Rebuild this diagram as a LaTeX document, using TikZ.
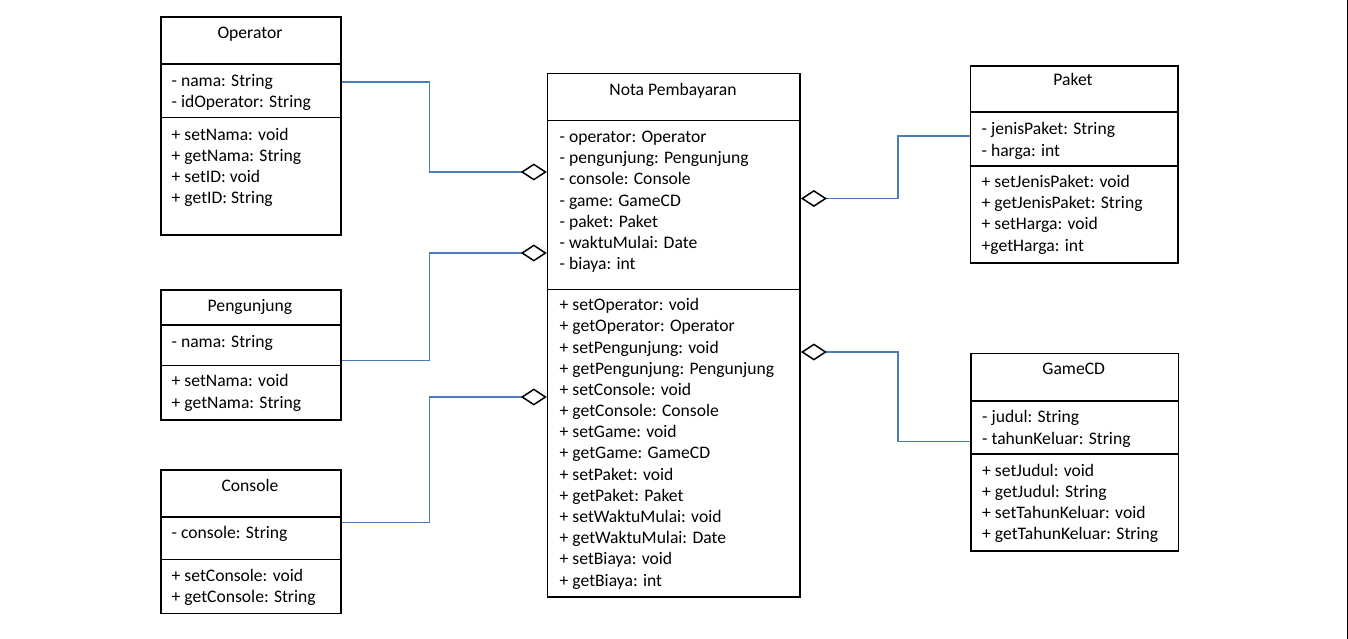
\documentclass[tikz,border=0pt]{standalone}
\usepackage{fontspec}
\setmainfont{Carlito}
\usetikzlibrary{arrows.meta}
\definecolor{conncol}{RGB}{74,126,187}
\tikzset{
  classbox/.style={draw=black, line width=1.6pt, fill=white, minimum width=#1, inner sep=0pt, anchor=north west},
  sepline/.style={draw=black, line width=1.6pt},
  txt/.style={font=\fontsize{17.6}{21.15}\selectfont, inner sep=0pt, anchor=base west},
  ttl/.style={font=\fontsize{17.6}{21.15}\selectfont, inner sep=0pt, anchor=base},
  agg/.style={draw=conncol, line width=1.5pt, {Diamond[open, fill=white, color=black, length=26pt, width=17pt, line width=1.5pt]}-},
}
\begin{document}
\begin{tikzpicture}[x=1pt, y=-1pt]
\useasboundingbox (0,0) rectangle (1348,639);
\fill[white] (0,0) rectangle (1348,639);
\fill[black] (1346.6,0) rectangle (1348,639);

% ---------- Operator ----------
\node[classbox=180pt, minimum height=218pt] (op) at (160,16) {};
\draw[sepline] (op.west |- 0,64) -- (op.east |- 0,64);
\draw[sepline] (op.west |- 0,117.5) -- (op.east |- 0,117.5);
\node[ttl] (opt) at (250,38.5) {Operator};
\foreach [count=\i] \t in {- nama: String, - idOperator: String}
  \node[txt] (opa\i) at (171.5,{86.5+(\i-1)*21.15}) {\t};
\foreach [count=\i] \t in {+ setNama: void, + getNama: String, + setID: void, + getID: String}
  \node[txt] (opm\i) at (171.5,{140.5+(\i-1)*21.15}) {\t};

% ---------- Pengunjung ----------
\node[classbox=180pt, minimum height=130pt] (pg) at (160,289) {};
\draw[sepline] (pg.west |- 0,325) -- (pg.east |- 0,325);
\draw[sepline] (pg.west |- 0,365.5) -- (pg.east |- 0,365.5);
\node[ttl] (pgt) at (250,311.5) {Pengunjung};
\node[txt] (pga1) at (171.5,347.5) {- nama: String};
\foreach [count=\i] \t in {+ setNama: void, + getNama: String}
  \node[txt] (pgm\i) at (171.5,{386.8+(\i-1)*21.6}) {\t};

% ---------- Console ----------
\node[classbox=180pt, minimum height=143.5pt] (cs) at (160,469) {};
\draw[sepline] (cs.west |- 0,516.7) -- (cs.east |- 0,516.7);
\draw[sepline] (cs.west |- 0,559.3) -- (cs.east |- 0,559.3);
\node[ttl] (cst) at (250,491) {Console};
\node[txt] (csa1) at (171.5,538.7) {- console: String};
\foreach [count=\i] \t in {+ setConsole: void, + getConsole: String}
  \node[txt] (csm\i) at (171.5,{581+(\i-1)*21.8}) {\t};

% ---------- Nota Pembayaran ----------
\node[classbox=252.5pt, minimum height=523.3pt] (nota) at (546.8,72.7) {};
\draw[sepline] (nota.west |- 0,120.7) -- (nota.east |- 0,120.7);
\draw[sepline] (nota.west |- 0,289.3) -- (nota.east |- 0,289.3);
\node[ttl] (notat) at (673,95.7) {Nota Pembayaran};
\foreach [count=\i] \t in {- operator: Operator, - pengunjung: Pengunjung, - console: Console, - game: GameCD, - paket: Paket, - waktuMulai: Date, - biaya: int}
  \node[txt] (notaa\i) at (559.5,{142.7+(\i-1)*21.1}) {\t};
\foreach [count=\i] \t in {+ setOperator: void, + getOperator: Operator, + setPengunjung: void, + getPengunjung: Pengunjung, + setConsole: void, + getConsole: Console, + setGame: void, + getGame: GameCD, + setPaket: void, + getPaket: Paket, + setWaktuMulai: void, + getWaktuMulai: Date, + setBiaya: void, + getBiaya: int}
  \node[txt] (notam\i) at (559.5,{310.7+(\i-1)*21.18}) {\t};

% ---------- Paket ----------
\node[classbox=207.5pt, minimum height=197.3pt] (pk) at (969.5,65) {};
\draw[sepline] (pk.west |- 0,112.3) -- (pk.east |- 0,112.3);
\draw[sepline] (pk.west |- 0,166) -- (pk.east |- 0,166);
\node[ttl] (pkt) at (1073,86) {Paket};
\foreach [count=\i] \t in {- jenisPaket: String, - harga: int}
  \node[txt] (pka\i) at (981.5,{135+(\i-1)*21.15}) {\t};
\foreach [count=\i] \t in {+ setJenisPaket: void, + getJenisPaket: String, + setHarga: void, +getHarga: int}
  \node[txt] (pkm\i) at (981.5,{187.5+(\i-1)*21.2}) {\t};

% ---------- GameCD ----------
\node[classbox=207.5pt, minimum height=197.3pt] (gc) at (970,352.7) {};
\draw[sepline] (gc.west |- 0,400.7) -- (gc.east |- 0,400.7);
\draw[sepline] (gc.west |- 0,454) -- (gc.east |- 0,454);
\node[ttl] (gct) at (1073.7,374) {GameCD};
\foreach [count=\i] \t in {- judul: String, - tahunKeluar: String}
  \node[txt] (gca\i) at (982,{422.7+(\i-1)*21.3}) {\t};
\foreach [count=\i] \t in {+ setJudul: void, + getJudul: String, + setTahunKeluar: void, + getTahunKeluar: String}
  \node[txt] (gcm\i) at (982,{476+(\i-1)*21.3}) {\t};

% ---------- connectors (aggregation) ----------
\coordinate (jl) at (429.5,0);
\coordinate (jr) at (898,0);
\draw[agg] (nota.west |- 0,172) -- (jl |- 0,172) -- (jl |- 0,82) -- (op.east |- 0,82);
\draw[agg] (nota.west |- 0,253) -- (jl |- 0,253) -- (jl |- 0,360.7) -- (pg.east |- 0,360.7);
\draw[agg] (nota.west |- 0,397) -- (jl |- 0,397) -- (jl |- 0,522.7) -- (cs.east |- 0,522.7);
\draw[agg] (nota.east |- 0,198.5) -- (jr |- 0,198.5) -- (jr |- 0,136) -- (pk.west |- 0,136);
\draw[agg] (nota.east |- 0,352) -- (jr |- 0,352) -- (jr |- 0,441.7) -- (gc.west |- 0,441.7);
\end{tikzpicture}
\end{document}
